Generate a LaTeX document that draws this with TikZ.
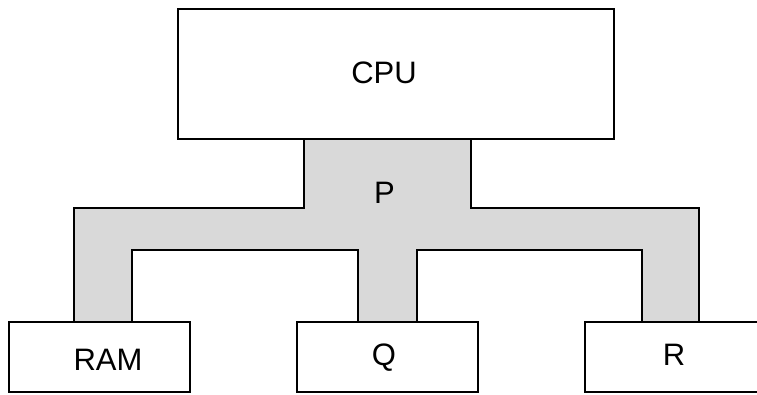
\documentclass[tikz,border=0pt]{standalone}
\usepackage{fontspec}
\setmainfont{Liberation Sans}
\definecolor{busgray}{HTML}{D9D9D9}
\tikzset{
  unitbox/.style={draw, line width=2pt, fill=white, inner sep=0pt},
  unitlab/.style={anchor=base, inner sep=0pt, font=\fontsize{31}{37}\selectfont},
}
\begin{document}
\begin{tikzpicture}[x=1pt,y=-1pt]
  \clip (0,0) rectangle (757,394);
  % shared bus
  \draw[line width=2pt, fill=busgray]
    (304,139) -- (304,208) -- (74,208) -- (74,322) -- (132,322) -- (132,250)
    -- (358,250) -- (358,322) -- (417,322) -- (417,250) -- (642,250)
    -- (642,322) -- (699,322) -- (699,208) -- (471,208) -- (471,139);
  \node[unitbox, minimum width=436pt, minimum height=130pt] (cpu) at (396,74) {};
  \foreach \name/\x in {ram/99.5, q/387, r/675} {
    \node[unitbox, minimum width=181pt, minimum height=70pt] (\name) at (\x,357) {};
  }
  \node[unitlab] (cpulab) at (384,83.5) {CPU};
  \node[unitlab] (plab) at (384.5,203.5) {P};
  \node[unitlab] (ramlab) at (108,370) {RAM};
  \node[unitlab] (qlab) at (384,365) {Q};
  \node[unitlab] (rlab) at (674,365) {R};
\end{tikzpicture}
\end{document}
